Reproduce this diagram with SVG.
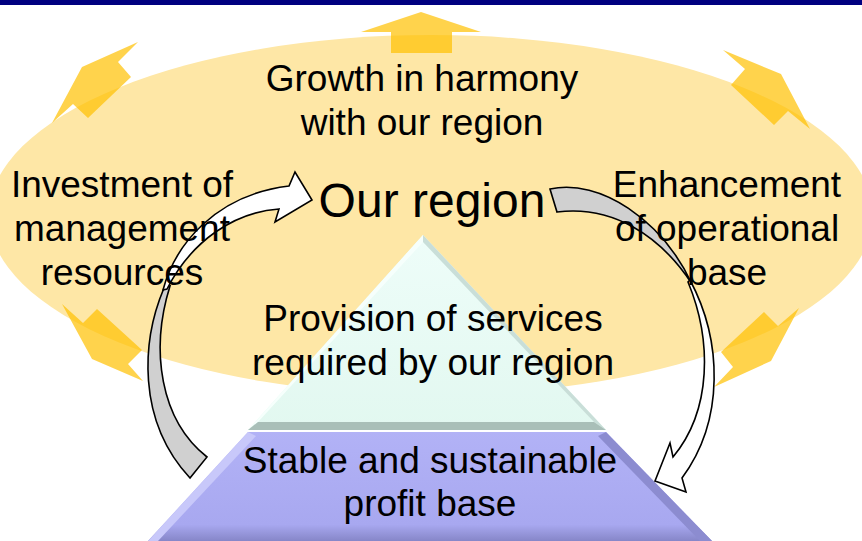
<svg xmlns="http://www.w3.org/2000/svg" width="862" height="541" viewBox="0 0 862 541">
<defs>
<style>
.t{font-family:"Liberation Sans",Arial,sans-serif;font-size:37px;fill:#000;text-anchor:middle}
.big{font-size:48px}
.ya{fill:#FFC000;fill-opacity:0.7}
.cw{fill:#fff;stroke:#000;stroke-width:1.6;stroke-linejoin:miter}
.cg{fill:#D0D0D0;stroke:#000;stroke-width:1.6}
</style>
<linearGradient id="gTop" x1="0" y1="0" x2="0" y2="1">
<stop offset="0" stop-color="#EEFDF9"/>
<stop offset="1" stop-color="#E2F8F0"/>
</linearGradient>
<linearGradient id="gBot" x1="0" y1="0" x2="0" y2="1">
<stop offset="0" stop-color="#B2B2F6"/>
<stop offset="0.85" stop-color="#A8A8F0"/>
<stop offset="1" stop-color="#8686C8"/>
</linearGradient>
</defs>
<rect x="0" y="0" width="862" height="5" fill="#000080"/>
<g id="region-ellipse">
<ellipse cx="431" cy="215" rx="442" ry="180" fill="#FEE7A6"/>
</g>
<g id="outward-arrows">
<polygon class="ya" points="421,12 481,32 452,32 452,53 391,53 391,32 361,32"/>
<polygon class="ya" points="138,42 118,62 131,77 88,118 73,104 52,123 82,67"/>
<polygon class="ya" points="723,50 745,69 731,85 774,125 788,111 810,129 781,74"/>
<polygon class="ya" points="62,304 83,323 97,309 142,350 128,364 143,381 92,359"/>
<polygon class="ya" points="799,308 778,326 764,312 721,352 733,367 714,387 771,361"/>
</g>
<g id="pyramid-top">
<polygon points="423,235 248,430 606,430" fill="url(#gTop)"/>
<polygon points="423,235 606,430 594,422 423,242" fill="#C9DED8"/>
<polygon points="423,235 248,430 258,422 423,242" fill="#F6FFFC"/>
<polygon points="258,422 594,422 606,430 248,430" fill="#A9BFB8"/>
</g>
<g id="pyramid-base">
<polygon points="248,432 606,432 712,541 148,541" fill="url(#gBot)"/>
<polygon points="248,432 256,436 158,541 148,541" fill="#C8C8FA"/>
<polygon points="606,432 598,436 700,541 712,541" fill="#8C8CD0"/>
</g>
<g id="connectors">
<path class="cg" d="M164,288 C142,340 136,420 190,478 L207,457 C160,420 150,350 170,286 Z"/>
<path class="cw" d="M163,290 C175,245 215,195 289,186 L295,172 L312,200 L275,222 L279,209 C235,212 192,240 167,289 Z"/>
<path class="cg" d="M550,189 C600,178 662,220 692,284 C660,235 612,205 557,212 Z"/>
<path class="cw" d="M690,280 C722,340 725,420 682,478 L686,492 L655,481 L670,443 L673,457 C712,410 712,340 688,282 Z"/>
</g>
<g id="label-growth">
<text class="t" x="422" y="91">Growth in harmony</text>
<text class="t" x="422" y="135">with our region</text>
</g>
<g id="label-our-region">
<text class="t big" x="432" y="217">Our region</text>
</g>
<g id="label-investment">
<text class="t" x="122" y="197">Investment of</text>
<text class="t" x="122" y="241">management</text>
<text class="t" x="122" y="285">resources</text>
</g>
<g id="label-enhancement">
<text class="t" x="727" y="197">Enhancement</text>
<text class="t" x="727" y="241">of operational</text>
<text class="t" x="727" y="285">base</text>
</g>
<g id="label-provision">
<text class="t" x="433" y="331">Provision of services</text>
<text class="t" x="433" y="375">required by our region</text>
</g>
<g id="label-profit">
<text class="t" x="430" y="473">Stable and sustainable</text>
<text class="t" x="430" y="516">profit base</text>
</g>
</svg>
